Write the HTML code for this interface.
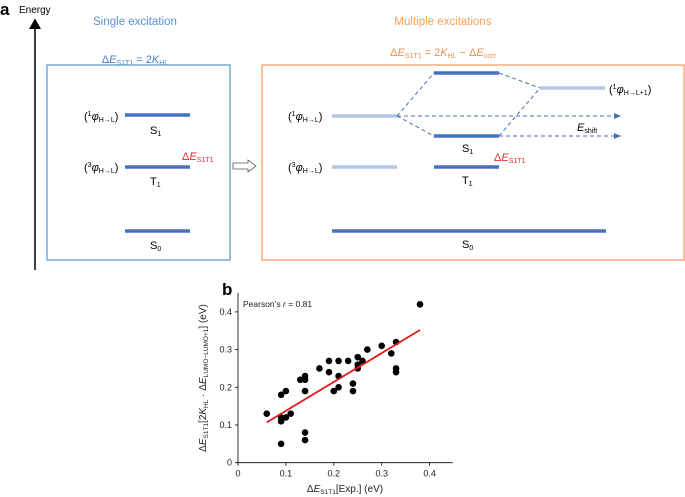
<!DOCTYPE html>
<html><head><meta charset="utf-8"><style>
body{margin:0;background:#fff}
svg{display:block;font-family:"Liberation Sans",sans-serif}
</style></head><body>
<svg width="685" height="497" viewBox="0 0 685 497" xmlns="http://www.w3.org/2000/svg">
<defs>
<marker id="ah" markerWidth="8" markerHeight="8" refX="7" refY="4" orient="auto"><path d="M0,1 L7,4 L0,7 Z" fill="#4a6fb5"/></marker>
<marker id="ak" markerWidth="8" markerHeight="8" refX="6" refY="4" orient="auto"><path d="M0,0 L7,4 L0,8 Z" fill="#000"/></marker>
</defs>
<g>
<text x="0" y="15" font-size="17" font-weight="bold">a</text>
<text x="19" y="13" font-size="10">Energy</text>
<line x1="35" y1="270" x2="35" y2="20" stroke="#000" stroke-width="1.5" marker-end="url(#ak)"/>
<text x="135" y="25" font-size="11.5" fill="#5b8fd0" text-anchor="middle">Single excitation</text>
<text x="135" y="63" font-size="11" fill="#4a7fc8" text-anchor="middle">Δ<tspan font-style="italic">E</tspan><tspan font-size="7" dy="2">S1T1</tspan><tspan dy="-2"> = 2</tspan><tspan font-style="italic">K</tspan><tspan font-size="7" dy="2">HL</tspan></text>
<rect x="47" y="65" width="183" height="195" fill="none" stroke="#5b9bd5" stroke-width="1.3"/>
<g stroke="#4472c4" stroke-width="3.5">
<line x1="125" y1="115" x2="190" y2="115"/>
<line x1="125" y1="167" x2="190" y2="167"/>
<line x1="125" y1="231" x2="190" y2="231"/>
</g>
<g font-size="11">
<text x="84" y="120">(<tspan font-size="7" dy="-4">1</tspan><tspan font-style="italic" dy="4">φ</tspan><tspan font-size="7" dy="2">H→L</tspan><tspan dy="-2">)</tspan></text>
<text x="84" y="171">(<tspan font-size="7" dy="-4">3</tspan><tspan font-style="italic" dy="4">φ</tspan><tspan font-size="7" dy="2">H→L</tspan><tspan dy="-2">)</tspan></text>
<text x="150" y="134">S<tspan font-size="7" dy="2">1</tspan></text>
<text x="150" y="185">T<tspan font-size="7" dy="2">1</tspan></text>
<text x="150" y="249">S<tspan font-size="7" dy="2">0</tspan></text>
<text x="182" y="160" fill="#e03030">Δ<tspan font-style="italic">E</tspan><tspan font-size="7" dy="2">S1T1</tspan></text>
</g>
<path d="M233,163 L248,163 L248,160 L256,166 L248,172 L248,169 L233,169 Z" fill="#fff" stroke="#555" stroke-width="0.8"/>
<text x="443" y="25" font-size="11.5" fill="#f0a060" text-anchor="middle">Multiple excitations</text>
<text x="443" y="56" font-size="11" fill="#e8904c" text-anchor="middle">Δ<tspan font-style="italic">E</tspan><tspan font-size="7" dy="2">S1T1</tspan><tspan dy="-2"> = 2</tspan><tspan font-style="italic">K</tspan><tspan font-size="7" dy="2">HL</tspan><tspan dy="-2"> − Δ</tspan><tspan font-style="italic">E</tspan><tspan font-size="7" dy="2">corr</tspan></text>
<rect x="262" y="65" width="422" height="195" fill="none" stroke="#f4a26b" stroke-width="1.3"/>
<g stroke="#4a6fb5" stroke-width="1" stroke-dasharray="4,3" fill="none">
<line x1="397" y1="116" x2="434" y2="73"/>
<line x1="397" y1="116" x2="434" y2="136"/>
<line x1="499" y1="73" x2="540" y2="88"/>
<line x1="499" y1="136" x2="540" y2="88"/>
<line x1="397" y1="116" x2="621" y2="116" marker-end="url(#ah)"/>
<line x1="499" y1="136" x2="621" y2="136" marker-end="url(#ah)"/>
</g>
<g stroke="#b4c7e7" stroke-width="3.5">
<line x1="332" y1="116" x2="397" y2="116"/>
<line x1="332" y1="167" x2="397" y2="167"/>
<line x1="540" y1="88" x2="605" y2="88"/>
</g>
<g stroke="#4472c4" stroke-width="3.5">
<line x1="434" y1="73" x2="499" y2="73"/>
<line x1="434" y1="136" x2="499" y2="136"/>
<line x1="434" y1="167" x2="499" y2="167"/>
<line x1="332" y1="231" x2="606" y2="231"/>
</g>
<g font-size="11">
<text x="288" y="120">(<tspan font-size="7" dy="-4">1</tspan><tspan font-style="italic" dy="4">φ</tspan><tspan font-size="7" dy="2">H→L</tspan><tspan dy="-2">)</tspan></text>
<text x="288" y="171">(<tspan font-size="7" dy="-4">3</tspan><tspan font-style="italic" dy="4">φ</tspan><tspan font-size="7" dy="2">H→L</tspan><tspan dy="-2">)</tspan></text>
<text x="609" y="93">(<tspan font-size="7" dy="-4">1</tspan><tspan font-style="italic" dy="4">φ</tspan><tspan font-size="7" dy="2">H→L+1</tspan><tspan dy="-2">)</tspan></text>
<text x="577" y="131" font-style="italic">E<tspan font-size="7" font-style="normal" dy="2">shift</tspan></text>
<text x="462" y="152">S<tspan font-size="7" dy="2">1</tspan></text>
<text x="462" y="184">T<tspan font-size="7" dy="2">1</tspan></text>
<text x="462" y="248">S<tspan font-size="7" dy="2">0</tspan></text>
<text x="494" y="161" fill="#e03030">Δ<tspan font-style="italic">E</tspan><tspan font-size="7" dy="2">S1T1</tspan></text>
</g>
</g>
<g id="chart">
<text x="222" y="295" font-size="17" font-weight="bold">b</text>
<text x="243" y="307" font-size="8.5" fill="#222">Pearson’s <tspan font-style="italic">r</tspan> = 0.81</text>
<text x="345" y="492" font-size="10" text-anchor="middle" fill="#222">Δ<tspan font-style="italic">E</tspan><tspan font-size="6.5" dy="2">S1T1</tspan><tspan dy="-2">[Exp.] (eV)</tspan></text>
<text x="0" y="0" font-size="10" text-anchor="middle" fill="#222" transform="translate(206,378) rotate(-90)">Δ<tspan font-style="italic">E</tspan><tspan font-size="6.5" dy="2">S1T1</tspan><tspan dy="-2">[2</tspan><tspan font-style="italic">K</tspan><tspan font-size="6.5" dy="2">HL</tspan><tspan dy="-2"> · Δ</tspan><tspan font-style="italic">E</tspan><tspan font-size="6.5" dy="2">LUMO−LUMO+1</tspan><tspan dy="-2">] (eV)</tspan></text>
</g>
<script>
const xTicks=[0,0.1,0.2,0.3,0.4];
const yTicks=[0,0.1,0.2,0.3,0.4];
const expVals=[0.38,0.06,0.09,0.10,0.09,0.09,0.10,0.11,0.09,0.14,0.14,0.13,0.14,0.14,0.14,0.17,0.19,0.19,0.21,0.21,0.21,0.20,0.23,0.24,0.24,0.25,0.25,0.25,0.26,0.27,0.30,0.32,0.33,0.33,0.33];
const calcVals=[0.42,0.13,0.18,0.19,0.12,0.11,0.12,0.13,0.05,0.08,0.06,0.22,0.23,0.22,0.19,0.25,0.27,0.24,0.27,0.23,0.20,0.19,0.27,0.21,0.19,0.28,0.26,0.25,0.27,0.30,0.31,0.29,0.32,0.25,0.24];
const fitX=[0.06,0.38];
const fitY=[0.107,0.352];
const NS="http://www.w3.org/2000/svg";
const g=document.getElementById('chart');
const L=238,B=462.7,R=452.7,T=292.7;
const sx=v=>L+v*479;
const sy=v=>B-v*377;
function mk(t,a){const e=document.createElementNS(NS,t);for(const k in a)e.setAttribute(k,a[k]);g.appendChild(e);return e;}
let ax=mk('path',{d:`M${L},${T} L${L},${B} L${R},${B}`,fill:'none',stroke:'#000','stroke-width':0.8});


xTicks.forEach(v=>{mk('line',{x1:sx(v),x2:sx(v),y1:B,y2:B+3,stroke:'#000','stroke-width':0.8});
const t=mk('text',{x:sx(v),y:B+14,'font-size':9,'text-anchor':'middle',fill:'#222'});t.textContent=v===0?'0':v.toFixed(1);

});
yTicks.forEach(v=>{mk('line',{x1:L-3,x2:L,y1:sy(v),y2:sy(v),stroke:'#000','stroke-width':0.8});
const t=mk('text',{x:L-6,y:sy(v)+3,'font-size':9,'text-anchor':'end',fill:'#222'});t.textContent=v===0?'0':v.toFixed(1);

});
expVals.forEach((x,i)=>{const c=mk('circle',{cx:sx(x),cy:sy(calcVals[i]),r:3.3,fill:'#000'});

});
const fl=mk('line',{x1:sx(fitX[0]),y1:sy(fitY[0]),x2:sx(fitX[1]),y2:sy(fitY[1]),stroke:'#e01818','stroke-width':1.8});


</script>
</svg>
</body></html>
